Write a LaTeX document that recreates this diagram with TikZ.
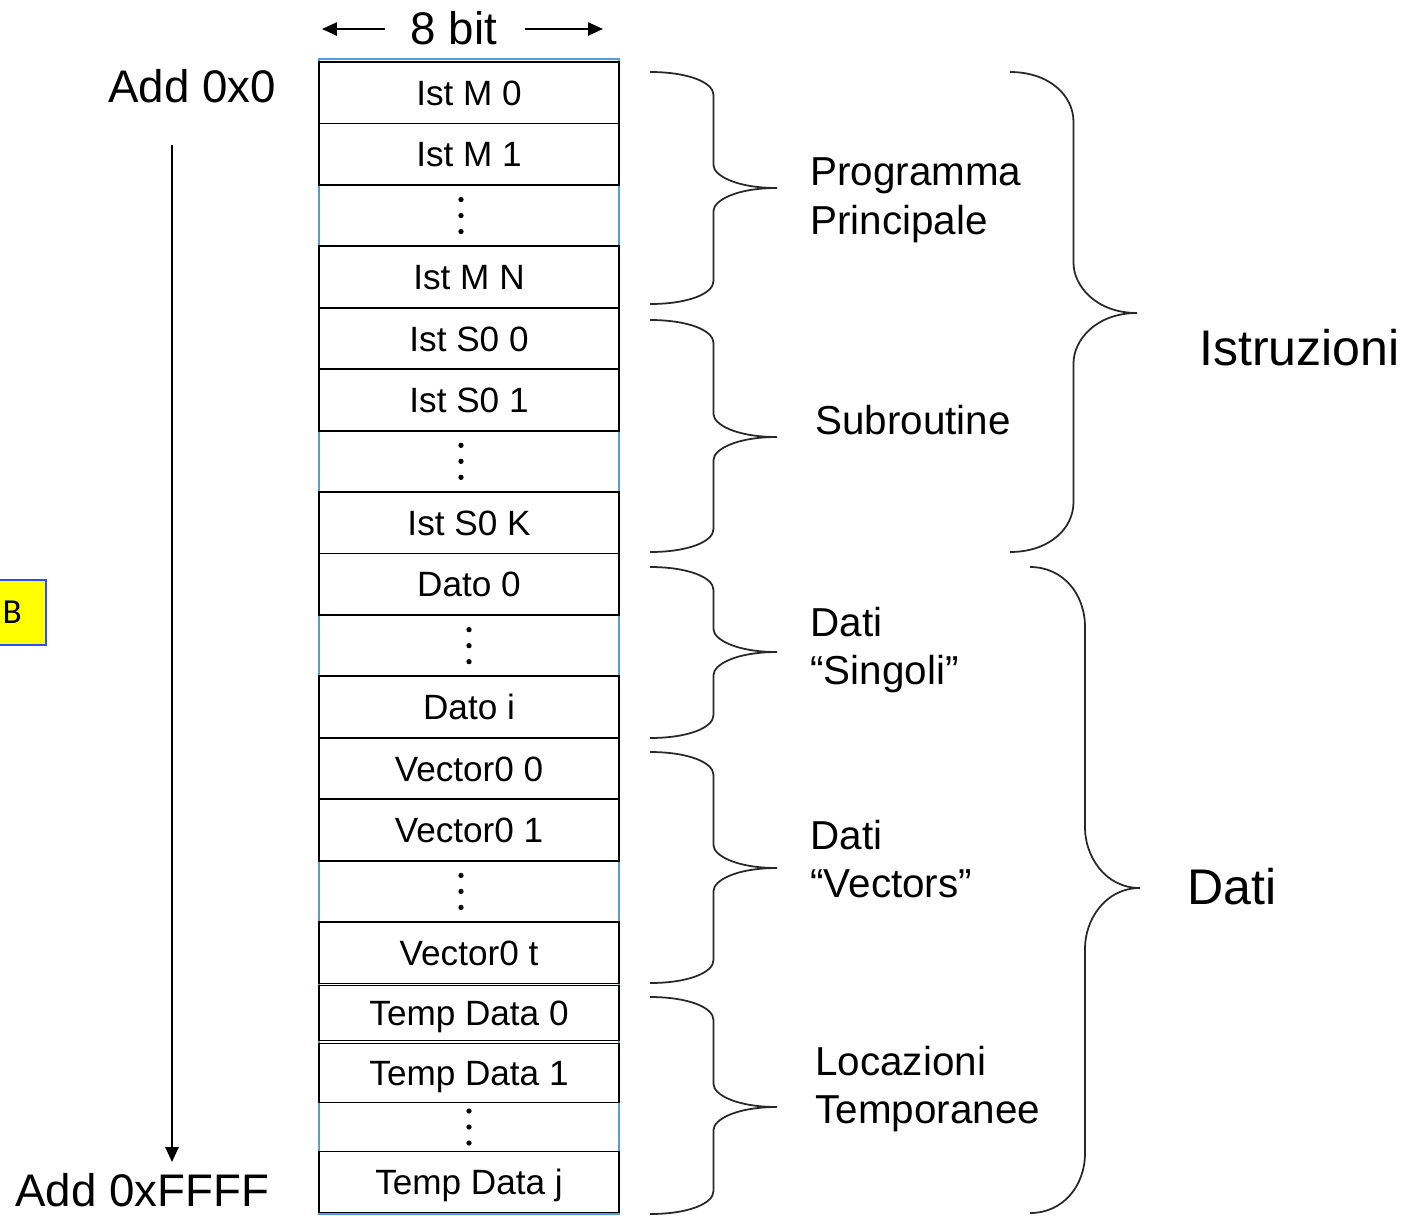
\documentclass[tikz,border=0pt]{standalone}
\usepackage{fontspec}
\setmainfont{Liberation Sans}
\newfontfamily\calibrifont{Carlito}
\usetikzlibrary{arrows.meta, positioning}
\definecolor{cellblue}{RGB}{91,155,213}
\definecolor{boxblue}{RGB}{40,80,255}
\definecolor{boxyellow}{RGB}{255,255,0}
\definecolor{bracegray}{RGB}{40,40,40}

\begin{document}
\begin{tikzpicture}[
    x=0.02cm, y=-0.02cm,
    cell/.style={rectangle, draw=black, line width=1pt, outer sep=0pt, minimum width=6cm, minimum height=1.229cm, inner sep=0pt, text height=14.3pt, text depth=0pt, font=\fontsize{20}{24}\selectfont},
    dotcell/.style={rectangle, outer sep=0pt, minimum width=6cm, minimum height=1.229cm, inner sep=0pt,
        path picture={\foreach \k in {-1,0,1} \fill ([xshift=#1]path picture bounding box.center) ++(0,\k*16) circle[radius=1.5pt];}},
    dotcell/.default=-0.16cm,
    grouptext/.style={anchor=west, inner sep=0pt, align=left, font=\fontsize{23}{27.8}\selectfont},
    bigtext/.style={anchor=west, inner sep=0pt, font=\fontsize{28.5}{34}\selectfont},
    addr/.style={anchor=west, inner sep=0pt, font=\fontsize{26}{31}\selectfont},
    arrow/.style={-{Triangle[length=8.5pt, width=7.5pt]}, line width=1pt},
    bracket/.style={draw=bracegray, line width=1pt}
]
\useasboundingbox (0,0) rectangle (1409,1215);

% memory column
\draw[cellblue, line width=0.7pt] (319,59) rectangle (619,1214);
\node[cell] (m0) at (469,92.7) {Ist M 0};
\node[cell, below=0pt of m0] (m1) {Ist M 1};
\node[dotcell, below=0pt of m1] (mdots) {};
\node[cell, below=0pt of mdots] (mn) {Ist M N};
\node[cell, below=0pt of mn] (s0) {Ist S0 0};
\node[cell, below=0pt of s0] (s1) {Ist S0 1};
\node[dotcell, below=0pt of s1] (sdots) {};
\node[cell, below=0pt of sdots] (sk) {Ist S0 K};
\node[cell, below=0pt of sk] (d0) {Dato 0};
\node[dotcell=0cm, below=0pt of d0] (ddots) {};
\node[cell, below=0pt of ddots] (di) {Dato i};
\node[cell, below=0pt of di] (v0) {Vector0 0};
\node[cell, below=0pt of v0] (v1) {Vector0 1};
\node[dotcell, below=0pt of v1] (vdots) {};
\node[cell, below=0pt of vdots] (vt) {Vector0 t};
\node[cell, minimum height=1.1cm, below=0.04cm of vt] (t0) {Temp Data 0};
\node[cell, minimum height=1.18cm, below=0.06cm of t0] (t1) {Temp Data 1};
\node[dotcell=0cm, minimum height=0.98cm, below=0pt of t1] (tdots) {};
\node[cell, minimum height=1.22cm, below=0pt of tdots] (tj) {Temp Data j};

% width and addresses
\node[addr, anchor=center] (bits) at (454,28) {8 bit};
\coordinate (bl) at (322,29);
\coordinate (br) at (603,29);
\draw[arrow] ([xshift=-0.5cm, yshift=-0.02cm]bits.west) -- (bl);
\draw[arrow] ([xshift=0.54cm, yshift=-0.02cm]bits.east) -- (br);
\node[addr] (a0) at (108,86) {Add 0x0};
\node[addr] (aend) at (15,1190) {Add 0xFFFF};
\coordinate (atop) at (172,145);
\coordinate (abot) at (172,1162);
\draw[arrow] (atop) -- (abot);

% braces: x start / x tip / y top / y tip / y bottom / curve
\foreach \xa/\xt/\yt/\ym/\yb/\c in {650/777/72/188/304/23, 650/777/320/437/552/23, 650/777/567/652/738/23,
    650/777/752/868/983/23, 650/777/997/1107/1214/23, 1010/1137/72/313/552/50, 1030/1140/567/888/1213/60}{
  \pgfmathsetmacro\xm{(\xa+\xt)/2}
  \pgfmathsetmacro\w{(\xt-\xa)/2}
  \draw[bracket] (\xa,\yt) .. controls ({\xa+0.6*\w},\yt) and (\xm,{\yt+0.45*\c}) .. (\xm,{\yt+\c})
    -- (\xm,{\ym-\c}) .. controls (\xm,{\ym-0.55*\c}) and ({\xm+0.35*\w},\ym) .. (\xt,\ym)
    .. controls ({\xm+0.35*\w},\ym) and (\xm,{\ym+0.55*\c}) .. (\xm,{\ym+\c})
    -- (\xm,{\yb-\c}) .. controls (\xm,{\yb-0.45*\c}) and ({\xa+0.6*\w},\yb) .. (\xa,\yb);
}

% group labels
\node[grouptext] (prog) at (810,200) {Programma\\Principale};
\node[grouptext] (sub) at (815,420) {Subroutine};
\node[grouptext] (single) at (810,650) {Dati\\“Singoli”};
\node[grouptext] (vect) at (810,859) {Dati\\“Vectors”};
\node[grouptext] (temp) at (815,1089) {Locazioni\\Temporanee};
\node[bigtext] (istr) at (1199,348) {Istruzioni};
\node[bigtext] (dati) at (1187,887) {Dati};

% side note
\node[draw=boxblue, fill=boxyellow, line width=1pt, minimum width=0.94cm, minimum height=1.3cm, text width=0.8cm, align=left, inner xsep=0.06cm, font=\calibrifont\fontsize{20}{24}\selectfont] (bnote) at (22.5,612.5) {B};
\end{tikzpicture}
\end{document}
